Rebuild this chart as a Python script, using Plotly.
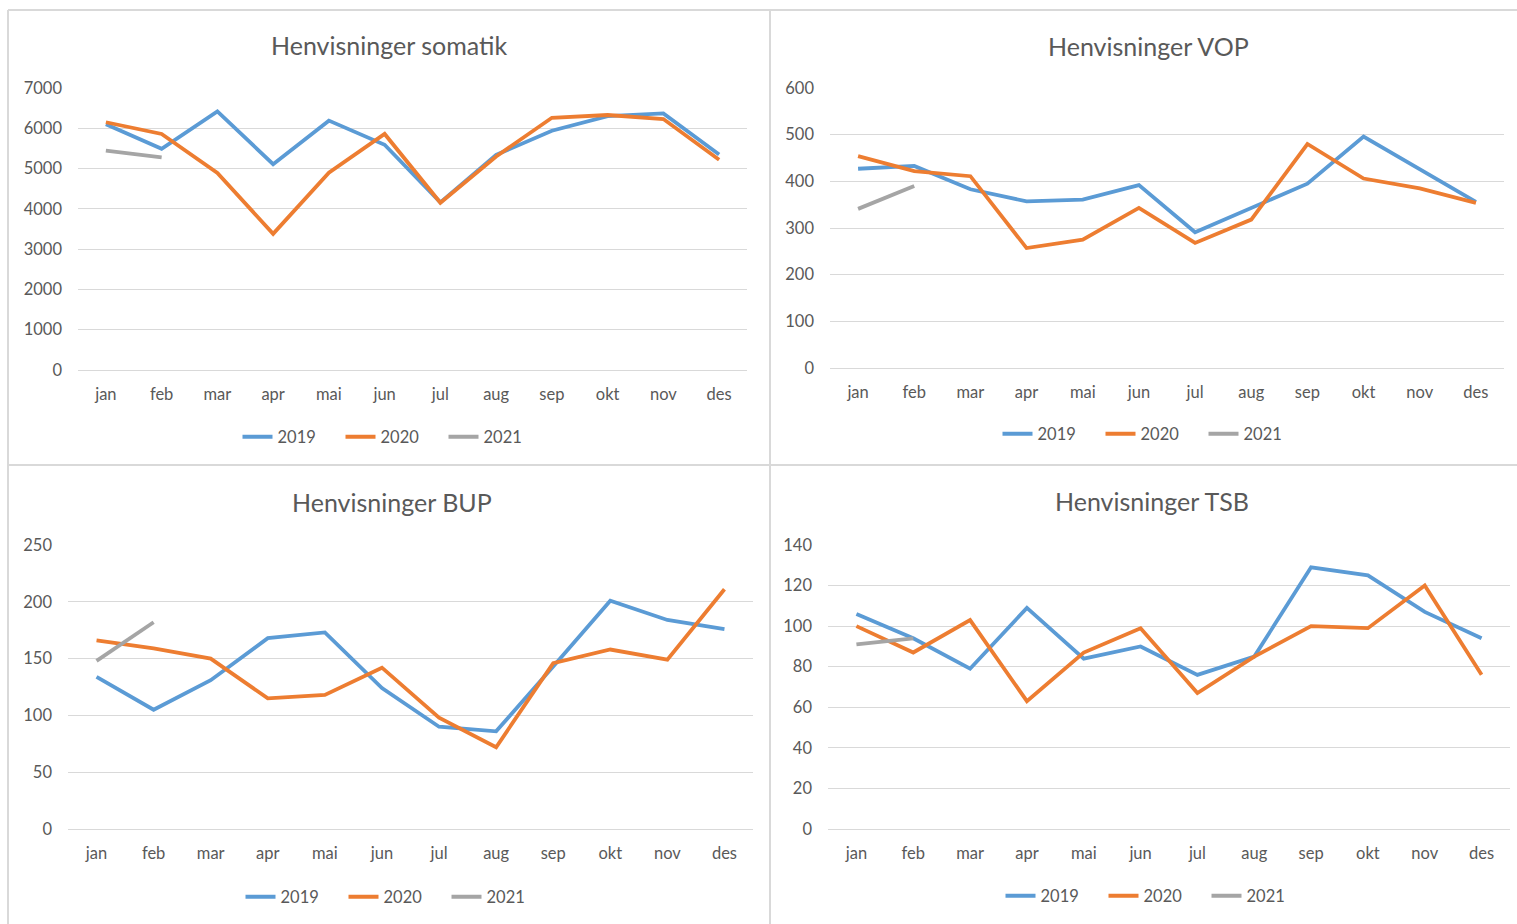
import plotly.graph_objects as go

months = ["jan", "feb", "mar", "apr", "mai", "jun", "jul", "aug", "sep", "okt", "nov", "des"]
years = ["2019", "2020", "2021"]

titles = ["Henvisninger somatik", "Henvisninger VOP", "Henvisninger BUP", "Henvisninger TSB"]

somatik_2019 = [6100, 5490, 6420, 5110, 6190, 5590, 4160, 5340, 5940, 6300, 6370, 5350]
somatik_2020 = [6150, 5860, 4890, 3380, 4900, 5860, 4150, 5300, 6260, 6330, 6230, 5220]
somatik_2021 = [5445, 5280]

vop_2019 = [427, 433, 383, 357, 361, 392, 291, 343, 395, 496, 426, 356]
vop_2020 = [454, 422, 411, 257, 275, 343, 268, 318, 480, 406, 385, 354]
vop_2021 = [341, 390]

bup_2019 = [134, 105, 131, 168, 173, 124, 90, 86, 143, 201, 184, 176]
bup_2020 = [166, 159, 150, 115, 118, 142, 98, 72, 146, 158, 149, 211]
bup_2021 = [148, 182]

tsb_2019 = [106, 94, 79, 109, 84, 90, 76, 85, 129, 125, 107, 94]
tsb_2020 = [100, 87, 103, 63, 87, 99, 67, 85, 100, 99, 120, 76]
tsb_2021 = [91, 94]

y_max = [7000, 600, 250, 140]
y_step = [1000, 100, 50, 20]

series = [
    [somatik_2019, somatik_2020, somatik_2021],
    [vop_2019, vop_2020, vop_2021],
    [bup_2019, bup_2020, bup_2021],
    [tsb_2019, tsb_2020, tsb_2021],
]

colors = ["#5B9BD5", "#ED7D31", "#A5A5A5"]

W, H = 1517, 924
# pixel layout of each panel: (x0, x1, ytop, ybottom, title_x, title_y, legend_x, legend_y)
panels = [
    (78, 747, 88, 370, 389, 45, 392, 437),
    (830, 1504, 88, 368, 1148, 46, 1152, 434),
    (68, 753, 545, 829, 392, 502, 395, 897),
    (828, 1510, 545, 829, 1152, 501, 1155, 896),
]

def px(x):
    return x / W

def py(y):
    return 1 - y / H

FONT = "Lato"
TXT = "#595959"
GRID = "#D9D9D9"

fig = go.Figure()
layout = dict(
    width=W, height=H,
    margin=dict(l=0, r=0, t=0, b=0, autoexpand=False),
    paper_bgcolor="white", plot_bgcolor="white",
    font=dict(family=FONT, color=TXT, size=16),
    annotations=[], shapes=[],
)

for i, (data, p) in enumerate(zip(series, panels)):
    x0, x1, yt, yb, tx, ty, lx, ly = p
    n = "" if i == 0 else str(i + 1)
    leg = "legend" + n
    for yr, vals, col in zip(years, data, colors):
        fig.add_trace(go.Scatter(
            x=months[:len(vals)], y=vals, mode="lines", name=yr,
            line=dict(color=col, width=3.8),
            xaxis="x" + n, yaxis="y" + n, legend=leg,
            showlegend=True,
        ))
    layout["xaxis" + n] = dict(
        domain=[px(x0), px(x1)], anchor="y" + n,
        type="category", categoryorder="array", categoryarray=months,
        range=[-0.5, 11.5], showgrid=False, showline=False, zeroline=False,
        ticks="", tickfont=dict(size=16.5, color=TXT, family=FONT),
        ticklabelstandoff=12, fixedrange=True,
    )
    layout["yaxis" + n] = dict(
        domain=[py(yb), py(yt)], anchor="x" + n,
        range=[0, y_max[i]], dtick=y_step[i], tick0=0,
        showgrid=True, gridcolor=GRID, gridwidth=1.3,
        zeroline=True, zerolinecolor=GRID, zerolinewidth=1.3,
        showline=False, ticks="",
        tickfont=dict(size=16.5, color=TXT, family=FONT),
        ticklabelstandoff=15, fixedrange=True,
    )
    layout[leg] = dict(
        orientation="h", x=px(lx), y=py(ly), xanchor="center", yanchor="middle",
        font=dict(size=16.5, color=TXT, family=FONT), bgcolor="rgba(0,0,0,0)",
        itemwidth=30, tracegroupgap=0, entrywidth=58, entrywidthmode="pixels",
    )
    layout["annotations"].append(dict(
        text=titles[i], x=px(tx), y=py(ty), xref="paper", yref="paper",
        xanchor="center", yanchor="middle", showarrow=False,
        font=dict(size=25, color=TXT, family=FONT),
    ))

# panel borders
for (ax0, ay0, ax1, ay1) in [(8, 10, 1517, 10), (8, 465, 1517, 465), (8, 10, 8, 924), (770, 10, 770, 924)]:
    layout["shapes"].append(dict(
        type="line", xref="paper", yref="paper",
        x0=px(ax0), y0=py(ay0), x1=px(ax1), y1=py(ay1),
        line=dict(color=GRID, width=2),
    ))

fig.update_layout(**layout)
fig.write_html(
    "out.html",
    config={"displayModeBar": False},
    post_script="document.body.style.margin='0';document.body.style.overflow='hidden';"
                "document.documentElement.style.overflow='hidden';",
)
